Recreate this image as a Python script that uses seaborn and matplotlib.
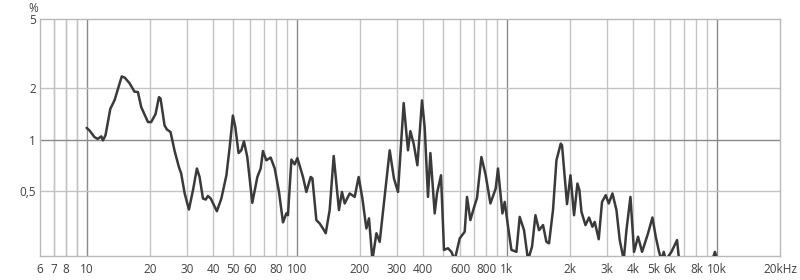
import numpy as np
import pandas as pd
import matplotlib
matplotlib.use("Agg")
import matplotlib.pyplot as plt
import seaborn as sns

freq_hz = [10, 10.33, 10.9, 11.3, 11.75, 11.96, 12.3, 12.97, 13.6, 14.25, 14.7, 15.2, 16.0, 16.9,
           17.55, 18.2, 19.6, 20.3, 21.3, 22.1, 22.5, 23.5, 24.1, 25.1, 26.2, 27.5, 28.2, 29.3,
           30.7, 32.1, 33.5, 34.5, 35.8, 36.9, 37.8, 39.0, 41.7, 43.8, 46.3, 48.0, 49.7, 51.05,
           52.9, 54.5, 56.1, 58.2, 61.5, 65.0, 67.4, 69.1, 71.7, 75.2, 78.6, 82.4, 86.1, 89.3,
           90.9, 94.4, 97.8, 100.8, 107.2, 111.2, 116.6, 118.8, 124.1, 128.7, 133.4, 137.5, 143.6,
           150.1, 159.0, 164.3, 169.3, 178.8, 188.9, 197.3, 205.6, 214.7, 221.0, 229.4, 239.7,
           248.5, 265.4, 277.3, 290.6, 303.7, 323.2, 338.8, 347.8, 360.6, 375.6, 395.1, 406.9,
           421.9, 433.2, 454.1, 465.7, 486.6, 502.8, 525.4, 545.3, 565.5, 597.4, 631, 647.1,
           671.5, 696.4, 722.1, 757.8, 794.3, 836.3, 886.3, 908.9, 954, 978.4, 1015, 1053, 1112,
           1153, 1209, 1263, 1320, 1370, 1425, 1489, 1545, 1590, 1661, 1725, 1808, 1834, 1937,
           2011, 2092, 2171, 2219, 2269, 2371, 2466, 2559, 2624, 2742, 2843, 2961, 3060, 3187,
           3330, 3452, 3607, 3715, 3882, 4038, 4219, 4410, 4709, 4941, 5123, 5312, 5454, 5593,
           5717, 6085, 6471, 6614, 7500, 8500, 9400, 9800, 10200, 11000, 14000, 20000]
thd_pct = [1.17, 1.13, 1.035, 1.01, 1.045, 0.99, 1.06, 1.51, 1.70, 2.06, 2.33, 2.29, 2.13, 1.90,
           1.89, 1.545, 1.265, 1.265, 1.41, 1.765, 1.73, 1.21, 1.147, 1.107, 0.867, 0.694, 0.636,
           0.487, 0.393, 0.509, 0.68, 0.607, 0.455, 0.449, 0.471, 0.455, 0.384, 0.455, 0.621,
           0.906, 1.38, 1.18, 0.836, 0.867, 0.978, 0.793, 0.43, 0.607, 0.68, 0.859, 0.759, 0.787,
           0.68, 0.497, 0.331, 0.373, 0.364, 0.766, 0.719, 0.782, 0.607, 0.497, 0.607, 0.597,
           0.341, 0.326, 0.305, 0.286, 0.39, 0.804, 0.39, 0.497, 0.426, 0.487, 0.465, 0.607,
           0.455, 0.305, 0.349, 0.2, 0.286, 0.255, 0.531, 0.867, 0.594, 0.497, 1.63, 0.867, 1.12,
           0.948, 0.71, 1.69, 1.18, 0.465, 0.836, 0.373, 0.487, 0.621, 0.229, 0.234, 0.223, 0.2,
           0.267, 0.292, 0.465, 0.341, 0.398, 0.459, 0.793, 0.621, 0.426, 0.52, 0.68, 0.373,
           0.435, 0.312, 0.229, 0.223, 0.356, 0.298, 0.2, 0.239, 0.364, 0.298, 0.319, 0.255,
           0.25, 0.39, 0.759, 0.948, 0.927, 0.422, 0.621, 0.364, 0.556, 0.509, 0.381, 0.319,
           0.353, 0.312, 0.333, 0.264, 0.435, 0.476, 0.426, 0.487, 0.39, 0.261, 0.2, 0.298,
           0.465, 0.223, 0.273, 0.223, 0.286, 0.353, 0.273, 0.223, 0.2, 0.223, 0.2, 0.223,
           0.261, 0.2, 0.15, 0.15, 0.19, 0.223, 0.19, 0.15, 0.15, 0.15]

x_ticks = [6, 7, 8, 10, 20, 30, 40, 50, 60, 80, 100, 200, 300, 400, 600, 800, 1000, 2000,
           3000, 4000, 5000, 6000, 8000, 10000, 20000]
x_labels = ["6", "7", "8", "10", "20", "30", "40", "50", "60", "80", "100", "200", "300",
            "400", "600", "800", "1k", "2k", "3k", "4k", "5k", "6k", "8k", "10k", "20kHz"]
y_ticks = [0.5, 1, 2, 5]
y_labels = ["0,5", "1", "2", "5"]

df = pd.DataFrame({"freq": freq_hz, "pct": thd_pct})

sns.set_style("white")
plt.rcParams["font.family"] = ["Open Sans", "DejaVu Sans"]

fig = plt.figure(figsize=(8, 2.8), dpi=100)
ax = fig.add_axes([40 / 800, 1 - 256 / 280, 740 / 800, (256 - 19.3) / 280])

ax.set_xscale("log")
ax.set_yscale("log")
ax.set_xlim(6, 20000)
ax.set_ylim(0.211, 5)

# grid lines
light = "#c4c4c4"
dark = "#8a8a8a"
minor_x = [m * d for d in (1, 10, 100, 1000, 10000) for m in range(2, 10)]
for v in [7, 8, 9] + minor_x:
    if 6 < v < 20000:
        ax.axvline(v, color=light, lw=1.0, zorder=1)
for v in [10, 100, 1000, 10000]:
    ax.axvline(v, color=dark, lw=1.0, zorder=1)
for v in [0.5, 2]:
    ax.axhline(v, color=light, lw=1.0, zorder=1)
ax.axhline(1, color=dark, lw=1.0, zorder=1)

sns.lineplot(data=df, x="freq", y="pct", ax=ax, color="#3a3a3a", lw=1.8,
             sort=False, estimator=None, zorder=3)

for s in ax.spines.values():
    s.set_color("#b8b8b8")
    s.set_linewidth(1.0)

ax.xaxis.set_major_locator(matplotlib.ticker.FixedLocator(x_ticks))
ax.xaxis.set_minor_locator(matplotlib.ticker.NullLocator())
ax.set_xticklabels(x_labels)
ax.yaxis.set_major_locator(matplotlib.ticker.FixedLocator(y_ticks))
ax.yaxis.set_minor_locator(matplotlib.ticker.NullLocator())
ax.set_yticklabels(y_labels)
ax.tick_params(axis="both", length=0, labelsize=8.5, colors="#404040")
ax.tick_params(axis="x", pad=5)
ax.tick_params(axis="y", pad=3)
ax.set_xlabel("")
ax.set_ylabel("")
ax.grid(False)

fig.text(33 / 800, 1 - 9 / 280, "%", ha="center", va="center", fontsize=8.5, color="#404040")

fig.savefig("out.png", dpi=100)
